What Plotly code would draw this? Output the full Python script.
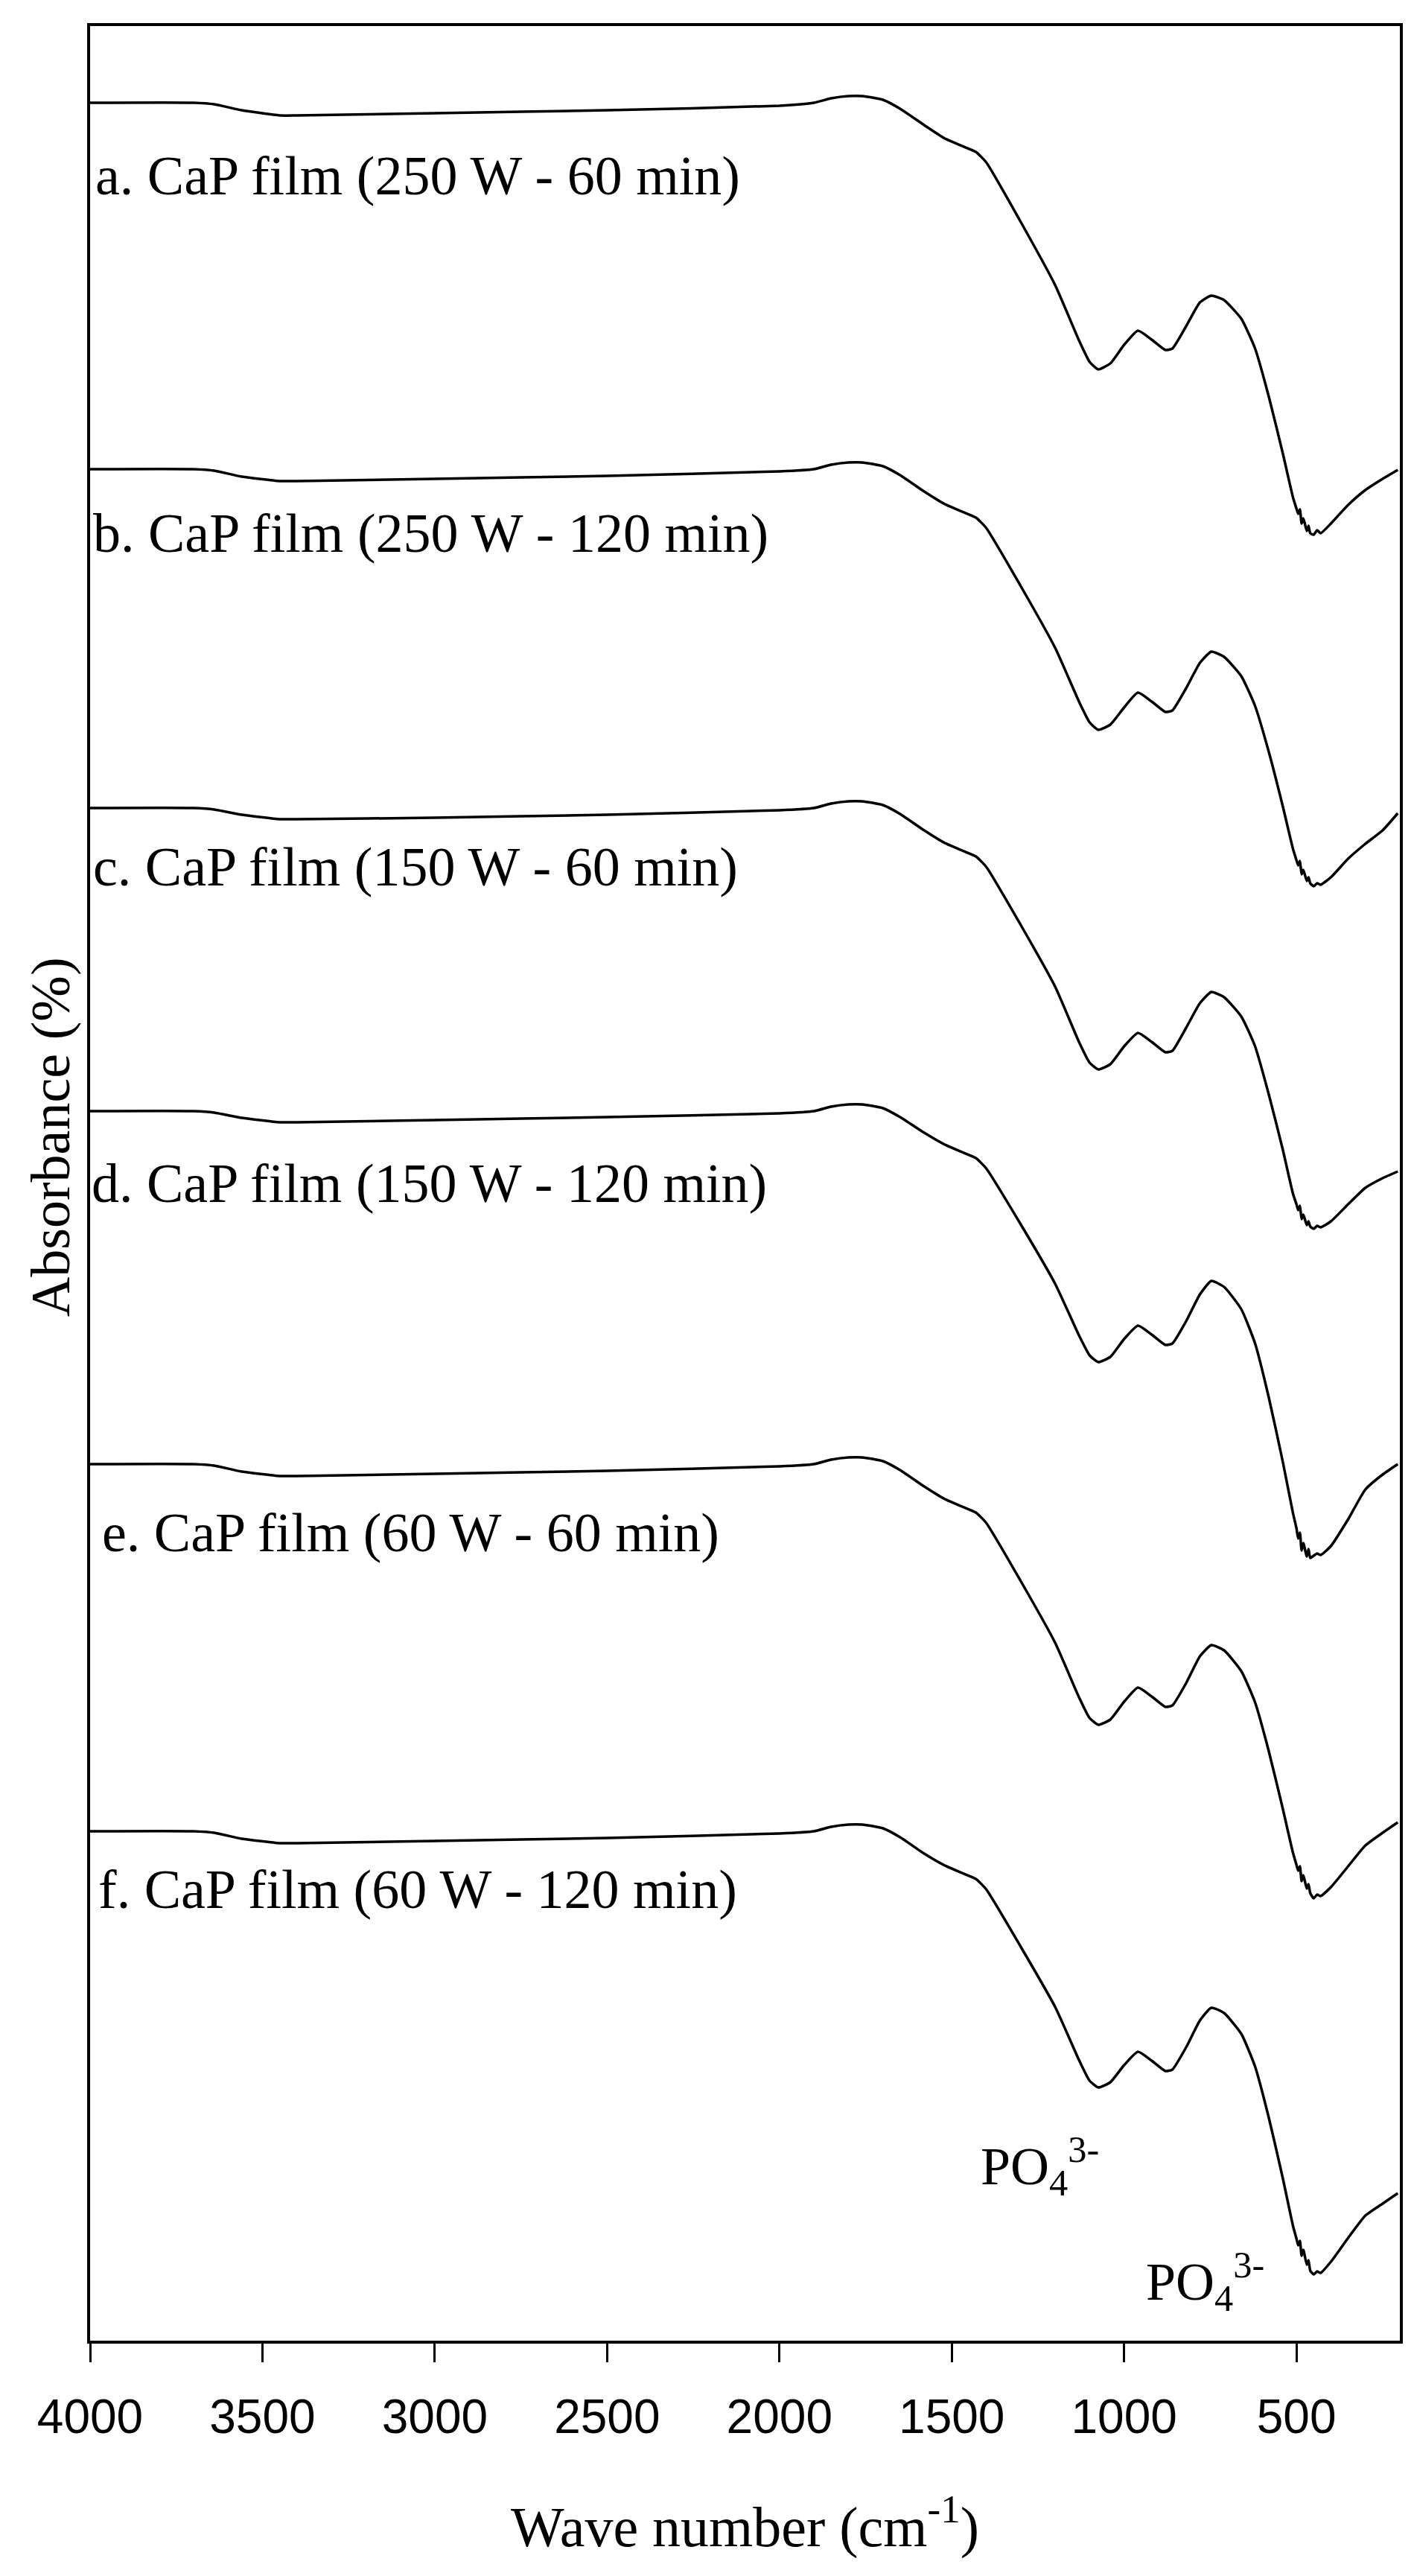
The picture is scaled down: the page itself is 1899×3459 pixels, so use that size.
import plotly.graph_objects as go

# wavenumbers (cm-1) shared by every spectrum
wavenumber = [4000, 3700, 3640, 3560, 3450, 3400, 3000, 2500, 2000, 1900, 1850, 1800, 1760,
              1700, 1650, 1580, 1520, 1470, 1430, 1400, 1300, 1200, 1130, 1100, 1075, 1040,
              1000, 960, 920, 880, 860, 820, 780, 747, 710, 660, 620, 580, 540, 510, 500,
              495, 490, 485, 480, 470, 465, 460, 450, 440, 430, 400, 350, 300, 250, 206]

# vertical offset of each stacked spectrum (arbitrary units)
offsets = [3005, 2513, 2058, 1651, 1177, 684]

# absorption depth below each baseline
depth_a = [0, 0, 2, 10, 17, 17, 14, 10, 4, 0, -6, -9, -9, -4, 8, 30, 48, 58, 66, 80, 160, 245, 320, 348,
           358, 350, 325, 306, 318, 332, 330, 300, 268, 259, 265, 290, 330, 395, 470, 530, 545, 552,
           546, 565, 558, 575, 568, 578, 580, 574, 578, 565, 540, 520, 505, 493]
depth_b = [0, 0, 2, 10, 16, 16, 13, 9, 3, 0, -6, -9, -9, -4, 8, 30, 47, 57, 65, 79, 157, 240, 313, 340,
           350, 343, 320, 300, 312, 326, 324, 294, 260, 245, 252, 278, 318, 380, 452, 510, 525, 532,
           526, 544, 538, 553, 548, 556, 560, 556, 558, 548, 523, 503, 485, 462]
depth_c = [0, 0, 2, 9, 15, 15, 13, 9, 3, 0, -6, -9, -9, -4, 8, 30, 47, 57, 65, 79, 157, 240, 315, 342,
           351, 344, 320, 302, 314, 328, 326, 295, 262, 247, 254, 280, 320, 385, 458, 518, 532, 540,
           534, 552, 546, 560, 555, 562, 565, 561, 563, 555, 532, 510, 497, 488]
depth_d = [0, 0, 2, 9, 15, 15, 12, 8, 3, 0, -6, -9, -9, -4, 8, 29, 45, 55, 63, 77, 152, 232, 302, 328,
           337, 330, 306, 288, 300, 314, 312, 282, 246, 228, 236, 266, 312, 385, 470, 540, 560, 574,
           566, 590, 580, 598, 588, 600, 597, 594, 596, 584, 548, 508, 488, 474]
depth_e = [0, 0, 2, 10, 16, 16, 13, 9, 3, 0, -6, -9, -9, -4, 8, 30, 47, 57, 65, 79, 157, 240, 314, 341,
           350, 343, 319, 300, 312, 326, 324, 294, 258, 243, 250, 278, 320, 386, 462, 522, 538, 546,
           540, 560, 552, 570, 564, 576, 583, 578, 580, 568, 540, 512, 495, 481]
depth_f = [0, 0, 2, 10, 16, 16, 13, 9, 3, 0, -6, -9, -9, -4, 8, 30, 46, 56, 64, 78, 155, 236, 308, 335,
           344, 337, 314, 296, 308, 322, 320, 290, 254, 237, 244, 272, 316, 385, 465, 530, 547, 556,
           550, 570, 562, 582, 576, 590, 595, 591, 593, 578, 546, 516, 500, 486]

labels = ['a. CaP film (250 W - 60 min)', 'b. CaP film (250 W - 120 min)',
          'c. CaP film (150 W - 60 min)', 'd. CaP film (150 W - 120 min)',
          'e. CaP film (60 W - 60 min)', 'f. CaP film (60 W - 120 min)']
label_x = [3990, 3995, 3995, 4000, 3970, 3980]
label_dy = [98, 86, 79, 97, 92, 78]

depths = [depth_a, depth_b, depth_c, depth_d, depth_e, depth_f]

serif = 'Liberation Serif'
fig = go.Figure()

for off, dep, lab, lx, ldy in zip(offsets, depths, labels, label_x, label_dy):
    fig.add_trace(go.Scatter(x=wavenumber, y=[off - d for d in dep], mode='lines',
                             line=dict(color='black', width=3.5, shape='spline', smoothing=0.5),
                             showlegend=False))
    fig.add_annotation(x=lx, y=off - ldy, text=lab, showarrow=False, xanchor='left',
                       font=dict(family=serif, size=74, color='black'))

# band assignments
fig.add_annotation(x=1420, y=235, text='PO<sub>4</sub><sup>3-</sup>', showarrow=False,
                   xanchor='left', font=dict(family=serif, size=72, color='black'))
fig.add_annotation(x=940, y=80, text='PO<sub>4</sub><sup>3-</sup>', showarrow=False,
                   xanchor='left', font=dict(family=serif, size=72, color='black'))

# axis titles
fig.add_annotation(x=0.5, y=-0.095, xref='paper', yref='paper', text='Wave number (cm<sup>-1</sup>)',
                   showarrow=False, font=dict(family=serif, size=76, color='black'))
fig.add_annotation(x=-0.006, y=0.52, xref='paper', yref='paper', text='Absorbance (%)',
                   textangle=-90, showarrow=False, xanchor='right',
                   font=dict(family=serif, size=74, color='black'))

fig.update_layout(
    width=1899, height=3459,
    margin=dict(l=113, r=27, t=27, b=324),
    plot_bgcolor='white', paper_bgcolor='white',
)
fig.update_xaxes(range=[4000, 200], tickvals=[4000, 3500, 3000, 2500, 2000, 1500, 1000, 500],
                 ticks='outside', ticklen=25, tickwidth=3, tickcolor='black',
                 showline=True, linewidth=4, linecolor='black', mirror=True,
                 showgrid=False, zeroline=False, ticklabelstandoff=18,
                 tickfont=dict(family='Liberation Sans', size=64, color='black'))
fig.update_yaxes(range=[0, 3108], showticklabels=False, ticks='',
                 showline=True, linewidth=4, linecolor='black', mirror=True,
                 showgrid=False, zeroline=False)

fig.write_html("out.html")
